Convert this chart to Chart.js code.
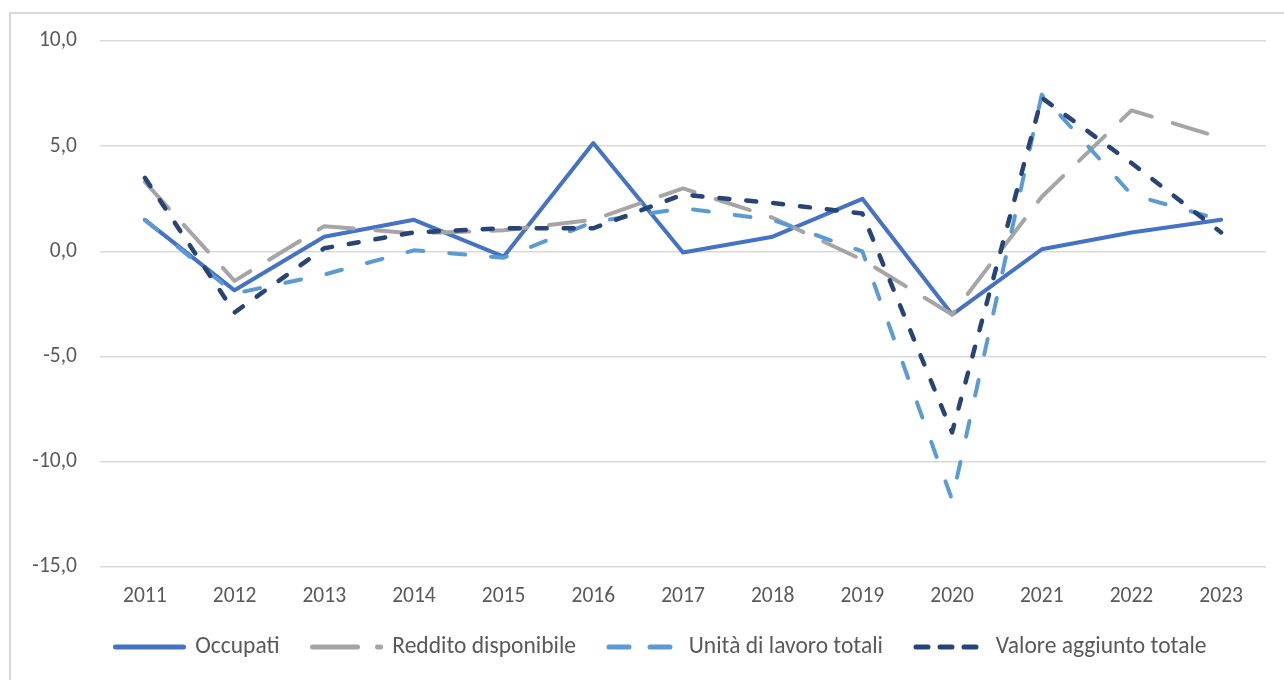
<!DOCTYPE html>
<html>
<head>
<meta charset="utf-8">
<script src="https://cdn.jsdelivr.net/npm/chart.js@4"></script>
<style>
  html, body { margin: 0; padding: 0; background: #ffffff; }
  #wrap { position: relative; width: 1284px; height: 680px; overflow: hidden; }
  #frame { position: absolute; left: 9px; top: 12px; width: 1300px; height: 700px;
           border-left: 2px solid #d9d9d9; border-top: 2px solid #d9d9d9; }
  canvas { position: absolute; left: 0; top: 0; }
</style>
</head>
<body>
<div id="wrap">
  <div id="frame"></div>
  <canvas id="c" width="1284" height="680"></canvas>
</div>
<script>
const years = ['2011','2012','2013','2014','2015','2016','2017','2018','2019','2020','2021','2022','2023'];
const occupati = [1.5, -1.85, 0.7, 1.5, -0.25, 5.15, -0.05, 0.7, 2.5, -3.0, 0.1, 0.9, 1.5];
const redditoDisponibile = [3.3, -1.4, 1.2, 0.85, 1.0, 1.5, 3.0, 1.6, -0.4, -3.0, 2.6, 6.7, 5.4];
const unitaLavoro = [1.5, -2.0, -1.1, 0.05, -0.3, 1.4, 2.05, 1.5, 0.0, -11.8, 7.45, 2.7, 1.5];
const valoreAggiunto = [3.5, -2.9, 0.15, 0.9, 1.1, 1.1, 2.7, 2.3, 1.8, -8.6, 7.3, 4.2, 0.9];
const yTicks = { min: -15, max: 10, step: 5 };

const FONT = 'Carlito, Lato, "Noto Sans", sans-serif';
const TXT = '#595959';
const LEGEND_FONT = 23.5;
const LEGEND_PAD = 33;

const legendShift = {
  id: 'legendShift',
  afterLayout(chart) {
    const lg = chart.legend;
    if (!lg) return;
    lg.left += 28; lg.right += 28;
    const h = lg.height;
    lg.top = 647 - LEGEND_PAD - LEGEND_FONT / 2;
    lg.bottom = lg.top + h;
  }
};

new Chart(document.getElementById('c'), {
  type: 'line',
  data: {
    labels: years,
    datasets: [
      { label: 'Occupati', data: occupati, borderColor: '#4472C4', backgroundColor: '#4472C4',
        borderWidth: 4, pointRadius: 0, tension: 0, order: 4, borderJoinStyle: 'round', borderCapStyle: 'round',
        legendDash: [] },
      { label: 'Reddito disponibile', data: redditoDisponibile, borderColor: '#A5A5A5', backgroundColor: '#A5A5A5',
        borderWidth: 4, pointRadius: 0, tension: 0, order: 3, borderDash: [36, 22], borderCapStyle: 'round', borderJoinStyle: 'round',
        legendDash: [45, 20] },
      { label: 'Unità di lavoro totali', data: unitaLavoro, borderColor: '#5B9BD5', backgroundColor: '#5B9BD5',
        borderWidth: 4, pointRadius: 0, tension: 0, order: 2, borderDash: [16, 26], borderCapStyle: 'round', borderJoinStyle: 'round',
        legendDash: [20, 21] },
      { label: 'Valore aggiunto totale', data: valoreAggiunto, borderColor: '#264478', backgroundColor: '#264478',
        borderWidth: 4.5, pointRadius: 0, tension: 0, order: 1, borderDash: [10, 17], borderCapStyle: 'round', borderJoinStyle: 'round',
        legendDash: [12, 12] }
    ]
  },
  plugins: [legendShift],
  options: {
    responsive: false,
    animation: false,
    layout: { padding: { left: 0, right: 18, top: 41, bottom: 0 } },
    plugins: {
      tooltip: { enabled: false },
      legend: {
        position: 'bottom',
        labels: {
          usePointStyle: true,
          pointStyle: 'line',
          pointStyleWidth: 68,
          padding: LEGEND_PAD,
          color: TXT,
          font: { family: FONT, size: LEGEND_FONT },
          sort: (a, b) => a.datasetIndex - b.datasetIndex,
          generateLabels: (chart) => {
            const items = Chart.defaults.plugins.legend.labels.generateLabels(chart);
            return items.map((it) => {
              const ds = chart.data.datasets[it.datasetIndex];
              it.lineDash = ds.legendDash || [];
              it.lineCap = 'round';
              it.lineWidth = 5;
              it.strokeStyle = ds.borderColor;
              it.fillStyle = ds.borderColor;
              it.pointStyle = 'line';
              return it;
            });
          }
        }
      }
    },
    scales: {
      x: {
        offset: true,
        grid: { display: false, drawTicks: false },
        border: { display: false },
        ticks: { color: TXT, font: { family: FONT, size: 21.5 }, padding: 17, maxRotation: 0, autoSkip: false },
        afterFit: (s) => { s.height = 46.5; }
      },
      y: {
        min: yTicks.min, max: yTicks.max,
        grid: { color: '#d9d9d9', lineWidth: 1.5, drawTicks: false },
        border: { display: false },
        ticks: {
          stepSize: yTicks.step, color: TXT, padding: 23,
          font: { family: FONT, size: 21.5 },
          callback: (v) => Number(v).toFixed(1).replace('.', ',')
        },
        afterFit: (s) => { s.width = 100; }
      }
    }
  }
});
</script>
</body>
</html>
